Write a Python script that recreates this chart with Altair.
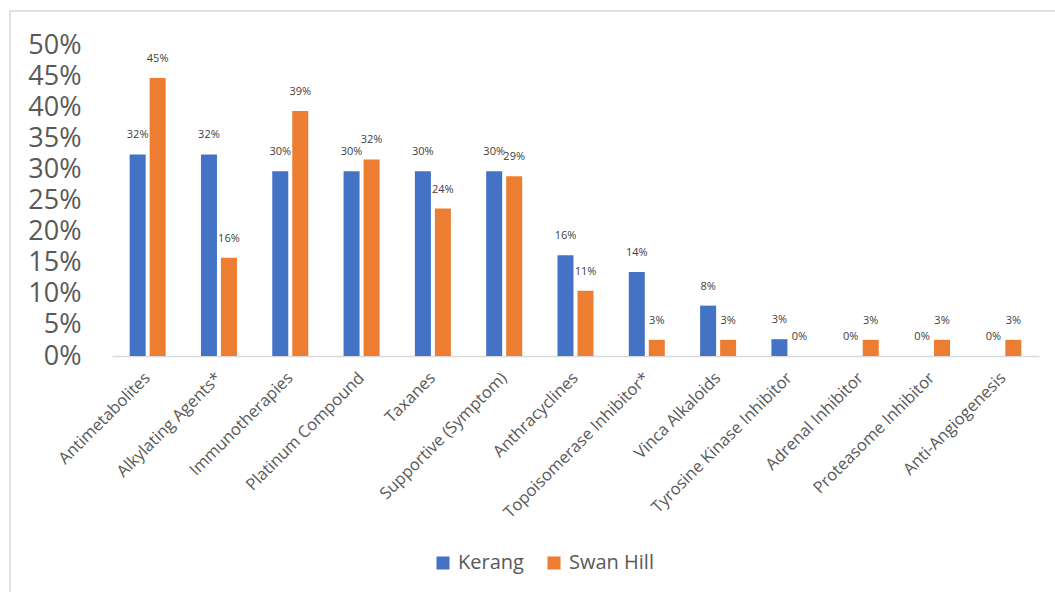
import altair as alt
import pandas as pd

categories = [
    "Antimetabolites", "Alkylating Agents*", "Immunotherapies", "Platinum Compound",
    "Taxanes", "Supportive (Symptom)", "Anthracyclines", "Topoisomerase Inhibitor*",
    "Vinca Alkaloids", "Tyrosine Kinase Inhibitor", "Adrenal Inhibitor",
    "Proteasome Inhibitor", "Anti-Angiogenesis",
]
kerang = [0.324, 0.324, 0.297, 0.297, 0.297, 0.297, 0.162, 0.135, 0.081, 0.027, 0.0, 0.0, 0.0]
swan_hill = [0.447, 0.158, 0.394, 0.316, 0.237, 0.289, 0.105, 0.026, 0.026, 0.0, 0.026, 0.026, 0.026]
series = ["Kerang", "Swan Hill"]
colors = ["#4472C4", "#ED7D31"]
y_ticks = [0, 0.05, 0.10, 0.15, 0.20, 0.25, 0.30, 0.35, 0.40, 0.45, 0.50]

rows = []
for i, c in enumerate(categories):
    rows.append({"cat": c, "series": "Kerang", "v": kerang[i]})
    rows.append({"cat": c, "series": "Swan Hill", "v": swan_hill[i]})
df = pd.DataFrame(rows)

FONT = "Open Sans"
GRAY = "#595959"

x_enc = alt.X("cat:N", sort=categories, title=None,
              scale=alt.Scale(paddingInner=0.495, paddingOuter=0.2475),
              axis=alt.Axis(labelAngle=-45, labelFontSize=16.5, labelColor=GRAY,
                            labelFont=FONT, ticks=False, domainColor="#d9d9d9",
                            domainWidth=1.5, labelPadding=19, labelLimit=300,
                            labelBaseline="middle", labelAlign="right",
                            labelOverlap=False))
xo = alt.XOffset("series:N", sort=series, scale=alt.Scale(paddingInner=0.2))
y_enc = alt.Y("v:Q", title=None,
              scale=alt.Scale(domain=[0, 0.5], nice=False),
              axis=alt.Axis(values=y_ticks, format=".0%", labelFontSize=27,
                            labelColor=GRAY, labelFont=FONT, grid=False,
                            domain=False, ticks=False, labelPadding=31,
                            labelOverlap=False, labelBaseline="middle",
                            labelSeparation=0, labelBound=False))

base = alt.Chart(df).encode(x=x_enc, xOffset=xo, y=y_enc)

bars = base.mark_bar().encode(
    color=alt.Color("series:N", sort=series,
                    scale=alt.Scale(domain=series, range=colors),
                    legend=alt.Legend(title=None, orient="none", direction="horizontal",
                                      legendX=321, legendY=508, symbolType="square",
                                      symbolSize=170, symbolStrokeWidth=0,
                                      labelFontSize=20, labelColor=GRAY, labelFont=FONT,
                                      columnPadding=20, labelOffset=5)),
)

labels = base.mark_text(fontSize=11, color="#404040", font=FONT, baseline="middle", dy=-19).encode(
    text=alt.Text("v:Q", format=".0%"),
)

border_left = alt.Chart(pd.DataFrame({"a": [0]})).mark_rule(color="#d9d9d9", strokeWidth=1.5).encode(
    x=alt.value(-102), y=alt.value(-34), y2=alt.value(560))
border_top = alt.Chart(pd.DataFrame({"a": [0]})).mark_rule(color="#d9d9d9", strokeWidth=1.5).encode(
    x=alt.value(-102), x2=alt.value(960), y=alt.value(-34))

chart = alt.layer(border_left, border_top, bars, labels).properties(
    width=927, height=311,
    padding={"left": 112, "top": 45, "right": 16, "bottom": 236},
    autosize=alt.AutoSizeParams(type="none"),
    background="white",
).configure_view(stroke=None).configure_axisY(labelOverlap=False)

chart.save("out.html", embed_options={"renderer": "svg", "actions": False})
